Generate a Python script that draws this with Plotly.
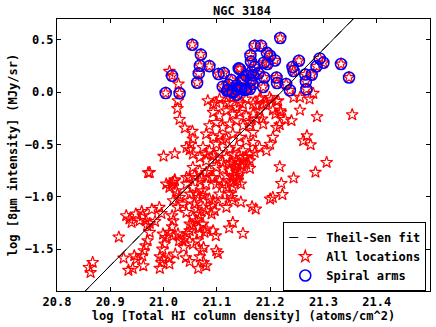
import plotly.graph_objects as go

# spiral-arm pixels (also part of "All locations")
arm_x = [21.054, 21.070, 21.068, 21.086, 21.066, 21.063, 21.016, 21.004, 21.030, 21.103,
         21.113, 21.141, 21.127, 21.111, 21.122, 21.119, 21.129, 21.138, 21.143, 21.153,
         21.147, 21.155, 21.219, 21.171, 21.183, 21.163, 21.164, 21.194, 21.200, 21.209,
         21.188, 21.195, 21.171, 21.254, 21.242, 21.244, 21.178, 21.165, 21.189, 21.212,
         21.213, 21.230, 21.237, 21.167, 21.162, 21.187, 21.266, 21.278, 21.267, 21.268,
         21.293, 21.300, 21.287, 21.333, 21.348, 21.168, 21.164, 21.145, 21.149, 21.143,
         21.121, 21.130, 21.137, 21.146, 21.149, 21.137, 21.155]
arm_y = [0.454, 0.359, 0.253, 0.250, 0.180, 0.091, 0.158, -0.008, -0.010, 0.174,
         0.184, 0.228, 0.117, 0.053, 0.072, 0.014, 0.008, 0.027, 0.040, 0.021,
         0.117, 0.158, 0.518, 0.445, 0.445, 0.352, 0.294, 0.376, 0.349, 0.304,
         0.282, 0.270, 0.244, 0.301, 0.241, 0.203, 0.180, 0.193, 0.141, 0.141,
         0.088, 0.078, 0.019, 0.078, 0.031, 0.050, 0.170, 0.167, 0.103, 0.029,
         0.323, 0.282, 0.247, 0.270, 0.141, 0.161, 0.117, 0.031, 0.117, 0.222,
         0.021, -0.002, -0.024, 0.031, 0.110, 0.062, 0.027]

# remaining locations
other_x = [21.011, 21.028, 21.027, 21.026, 21.030, 21.040, 21.054, 21.055, 21.051, 21.049,
           21.000, 21.021, 20.974, 21.021, 20.971,
           21.083, 21.093, 21.105, 21.118, 21.130, 21.143, 21.155, 21.168, 21.180, 21.193,
           21.199, 21.212, 21.099, 21.124, 21.137, 21.149, 21.174, 21.187, 21.244, 21.256,
           21.281, 21.274, 21.215, 21.182, 21.202,
           21.093, 21.105, 21.118, 21.130, 21.143, 21.155, 21.168, 21.180, 21.219, 21.210,
           21.256, 21.220, 21.205, 21.288, 21.354,
           21.086, 21.099, 21.111, 21.124, 21.137, 21.149, 21.162, 21.174, 21.187, 21.212,
           21.218, 21.228, 21.240, 21.185, 21.162,
           21.080, 21.093, 21.105, 21.118, 21.130, 21.143, 21.155, 21.168, 21.168, 21.205,
           21.200, 21.262, 21.269, 21.276, 21.099, 21.111,
           21.180, 21.193, 21.074, 21.086, 21.124, 21.137, 21.149, 21.162, 21.043, 21.055,
           21.068, 21.080, 21.099, 21.111, 21.124, 21.137, 21.149, 21.162, 21.171, 21.080,
           21.093, 21.105, 21.118, 21.130, 21.306, 21.155,
           21.055, 21.068, 21.080, 21.099, 21.111, 21.124, 21.133, 21.140, 21.143, 21.130,
           21.043, 21.058, 21.149, 21.155, 21.162, 21.218, 21.244, 21.285, 21.221, 21.043,
           21.049, 21.068, 21.074, 21.080, 21.090, 21.099, 21.105, 21.118, 21.137, 21.005,
           21.015, 21.021, 21.011, 21.017, 21.071, 21.086, 21.093, 21.111, 21.118, 21.130,
           21.128, 21.135, 21.143, 21.132, 21.139, 21.126, 21.147,
           21.024, 21.030, 21.018, 21.036, 21.027, 21.026, 21.055, 21.062, 21.049, 21.058,
           21.093, 21.096, 21.090, 21.111, 21.118, 21.124, 21.130, 21.065, 21.055, 21.043,
           21.050, 21.066, 21.074, 21.086, 21.105, 21.128, 21.093, 21.062, 21.074, 21.080,
           21.145, 21.130, 21.145, 21.223, 21.200, 21.205, 21.166, 21.173, 21.130, 21.149,
           20.930, 20.936, 20.940, 20.955, 20.948, 20.959, 20.967, 20.969, 20.978, 20.992,
           20.996, 20.984, 20.961, 20.974, 21.016, 21.018, 21.016, 21.049, 21.055, 21.062,
           21.068, 21.066, 21.074, 21.080, 21.049,
           20.916, 20.974, 20.970, 20.966, 20.963, 20.960, 20.945, 20.949, 20.925, 20.934,
           20.942, 20.962, 20.867, 20.860, 20.863, 20.993, 20.999, 20.996, 20.993, 21.011,
           21.010, 21.022, 21.042, 21.049, 21.065, 21.075, 21.080, 21.068, 21.071, 21.099,
           21.102, 21.123, 21.093, 21.098, 21.077, 20.999, 21.004, 21.011, 21.018, 21.027,
           21.040, 21.044, 21.038, 21.029, 21.002, 20.998, 21.036, 21.055, 21.062, 21.068,
           21.075]
other_y = [0.199, 0.078, -0.081, -0.156, -0.260, -0.342, -0.373, -0.447, -0.495, -0.550,
           -0.612, -0.588, -0.768, -0.837, -0.770,
           -0.081, -0.113, -0.065, -0.098, -0.050, -0.098, -0.065, -0.113, -0.065, -0.098,
           -0.050, -0.088, -0.098, -0.107, -0.145, -0.113, -0.129, -0.113, -0.050, -0.048,
           -0.011, -0.065, -0.081, -0.055, -0.072,
           -0.193, -0.225, -0.177, -0.208, -0.193, -0.225, -0.208, -0.177, -0.177, -0.208,
           -0.172, -0.193, -0.170, -0.234, -0.215,
           -0.320, -0.289, -0.337, -0.304, -0.272, -0.320, -0.289, -0.256, -0.304, -0.337,
           -0.311, -0.260, -0.272, -0.256, -0.320,
           -0.400, -0.432, -0.416, -0.447, -0.400, -0.432, -0.464, -0.480, -0.384, -0.432,
           -0.497, -0.464, -0.416, -0.502, -0.495, -0.464,
           -0.528, -0.559, -0.528, -0.559, -0.543, -0.528, -0.559, -0.591, -0.528, -0.591,
           -0.623, -0.655, -0.639, -0.671, -0.686, -0.655, -0.623, -0.655, -0.576, -0.591,
           -0.607, -0.576, -0.623, -0.591, -0.671, -0.617,
           -0.719, -0.750, -0.767, -0.719, -0.734, -0.750, -0.703, -0.686, -0.782, -0.815,
           -0.815, -0.798, -0.655, -0.686, -0.727, -0.712, -0.820, -0.765, -0.872, -0.878,
           -0.815, -0.846, -0.942, -0.878, -0.815, -0.878, -0.846, -0.910, -0.815, -0.878,
           -0.878, -0.846, -0.910, -0.862, -0.815, -0.750, -0.815, -0.878, -0.798, -0.846,
           -0.673, -0.712, -0.750, -0.798, -0.846, -0.865, -0.703,
           -0.942, -1.006, -1.037, -1.069, -1.101, -0.973, -0.910, -0.973, -1.037, -1.069,
           -1.037, -1.133, -1.164, -1.037, -1.101, -0.973, -1.037, -1.164, -1.197, -1.149,
           -0.973, -1.006, -0.989, -1.021, -0.973, -1.006, -1.069, -1.117, -1.101, -1.133,
           -1.050, -0.910, -0.878, -0.978, -1.021, -1.006, -1.095, -1.117, -1.245, -1.350,
           -1.180, -1.212, -1.245, -1.228, -1.164, -1.140, -1.228, -1.276, -1.121, -1.101,
           -1.159, -1.235, -1.181, -1.254, -1.286, -1.228, -1.181, -1.324, -1.276, -1.228,
           -1.197, -1.293, -1.260, -1.308, -1.260,
           -1.385, -1.340, -1.420, -1.468, -1.515, -1.563, -1.563, -1.595, -1.585, -1.702,
           -1.685, -1.660, -1.627, -1.675, -1.723, -1.573, -1.595, -1.627, -1.683, -1.642,
           -1.585, -1.547, -1.582, -1.618, -1.685, -1.627, -1.659, -1.573, -1.515, -1.515,
           -1.541, -1.298, -1.324, -1.372, -1.340, -1.356, -1.388, -1.340, -1.372, -1.356,
           -1.394, -1.350, -1.484, -1.420, -1.452, -1.500, -1.420, -1.452, -1.420, -1.356,
           -1.484]

# Theil-Sen fit parameters
fit_slope = 5.17
fit_intercept = -109.71
fit_x = [20.80, 21.50]

x_ticks = [20.8, 20.9, 21.0, 21.1, 21.2, 21.3, 21.4]
y_ticks = [-1.5, -1.0, -0.5, 0.0, 0.5]

all_x = other_x + arm_x
all_y = other_y + arm_y
fit_y = [fit_slope * v + fit_intercept for v in fit_x]

font = dict(family="DejaVu Sans Mono", size=12, color="black", weight="bold")

fig = go.Figure()
fig.add_trace(go.Scatter(x=fit_x, y=fit_y, mode="lines", name="Theil-Sen fit",
                         line=dict(color="black", width=1, dash="dash")))
fig.add_trace(go.Scatter(x=all_x, y=all_y, mode="markers", name="All locations",
                         marker=dict(symbol="star-open", size=9, color="red",
                                     line=dict(width=1.2, color="red"))))
fig.add_trace(go.Scatter(x=arm_x, y=arm_y, mode="markers", name="Spiral arms",
                         marker=dict(symbol="circle-open", size=11, color="blue",
                                     line=dict(width=1.6, color="blue"))))
# solid line drawn over the plot (legend entry above shows dashes)
fig.add_trace(go.Scatter(x=fit_x, y=fit_y, mode="lines", showlegend=False,
                         line=dict(color="black", width=1)))

axis = dict(showline=True, linecolor="black", linewidth=1, mirror="allticks",
            ticks="inside", ticklen=4, tickcolor="black", showgrid=False,
            zeroline=False, tickfont=font, tickformat=".1f")

fig.update_layout(
    width=436, height=327,
    margin=dict(l=57, r=6, t=19, b=36, autoexpand=False),
    plot_bgcolor="white", paper_bgcolor="white",
    font=font,
    title=dict(text="NGC 3184", x=0.555, xanchor="center", y=0.968, yanchor="middle",
               font=font),
    xaxis=dict(axis, range=[20.8, 21.5], tickvals=x_ticks,
               title=dict(text="log [Total HI column density] (atoms/cm^2)",
                          font=font, standoff=2)),
    yaxis=dict(axis, range=[-1.9, 0.7], tickvals=y_ticks,
               title=dict(text="log [8μm intensity] (MJy/sr)", font=font, standoff=4)),
    legend=dict(x=0.99, y=0.0, xanchor="right", yanchor="bottom",
                bordercolor="black", borderwidth=1, bgcolor="white",
                font=font, itemwidth=32, tracegroupgap=0),
    showlegend=True,
)

# drop the page's default 8px body margin so the figure fills the window
fig.write_html("out.html", config={"displayModeBar": False},
               post_script="document.body.style.margin = '0';")
